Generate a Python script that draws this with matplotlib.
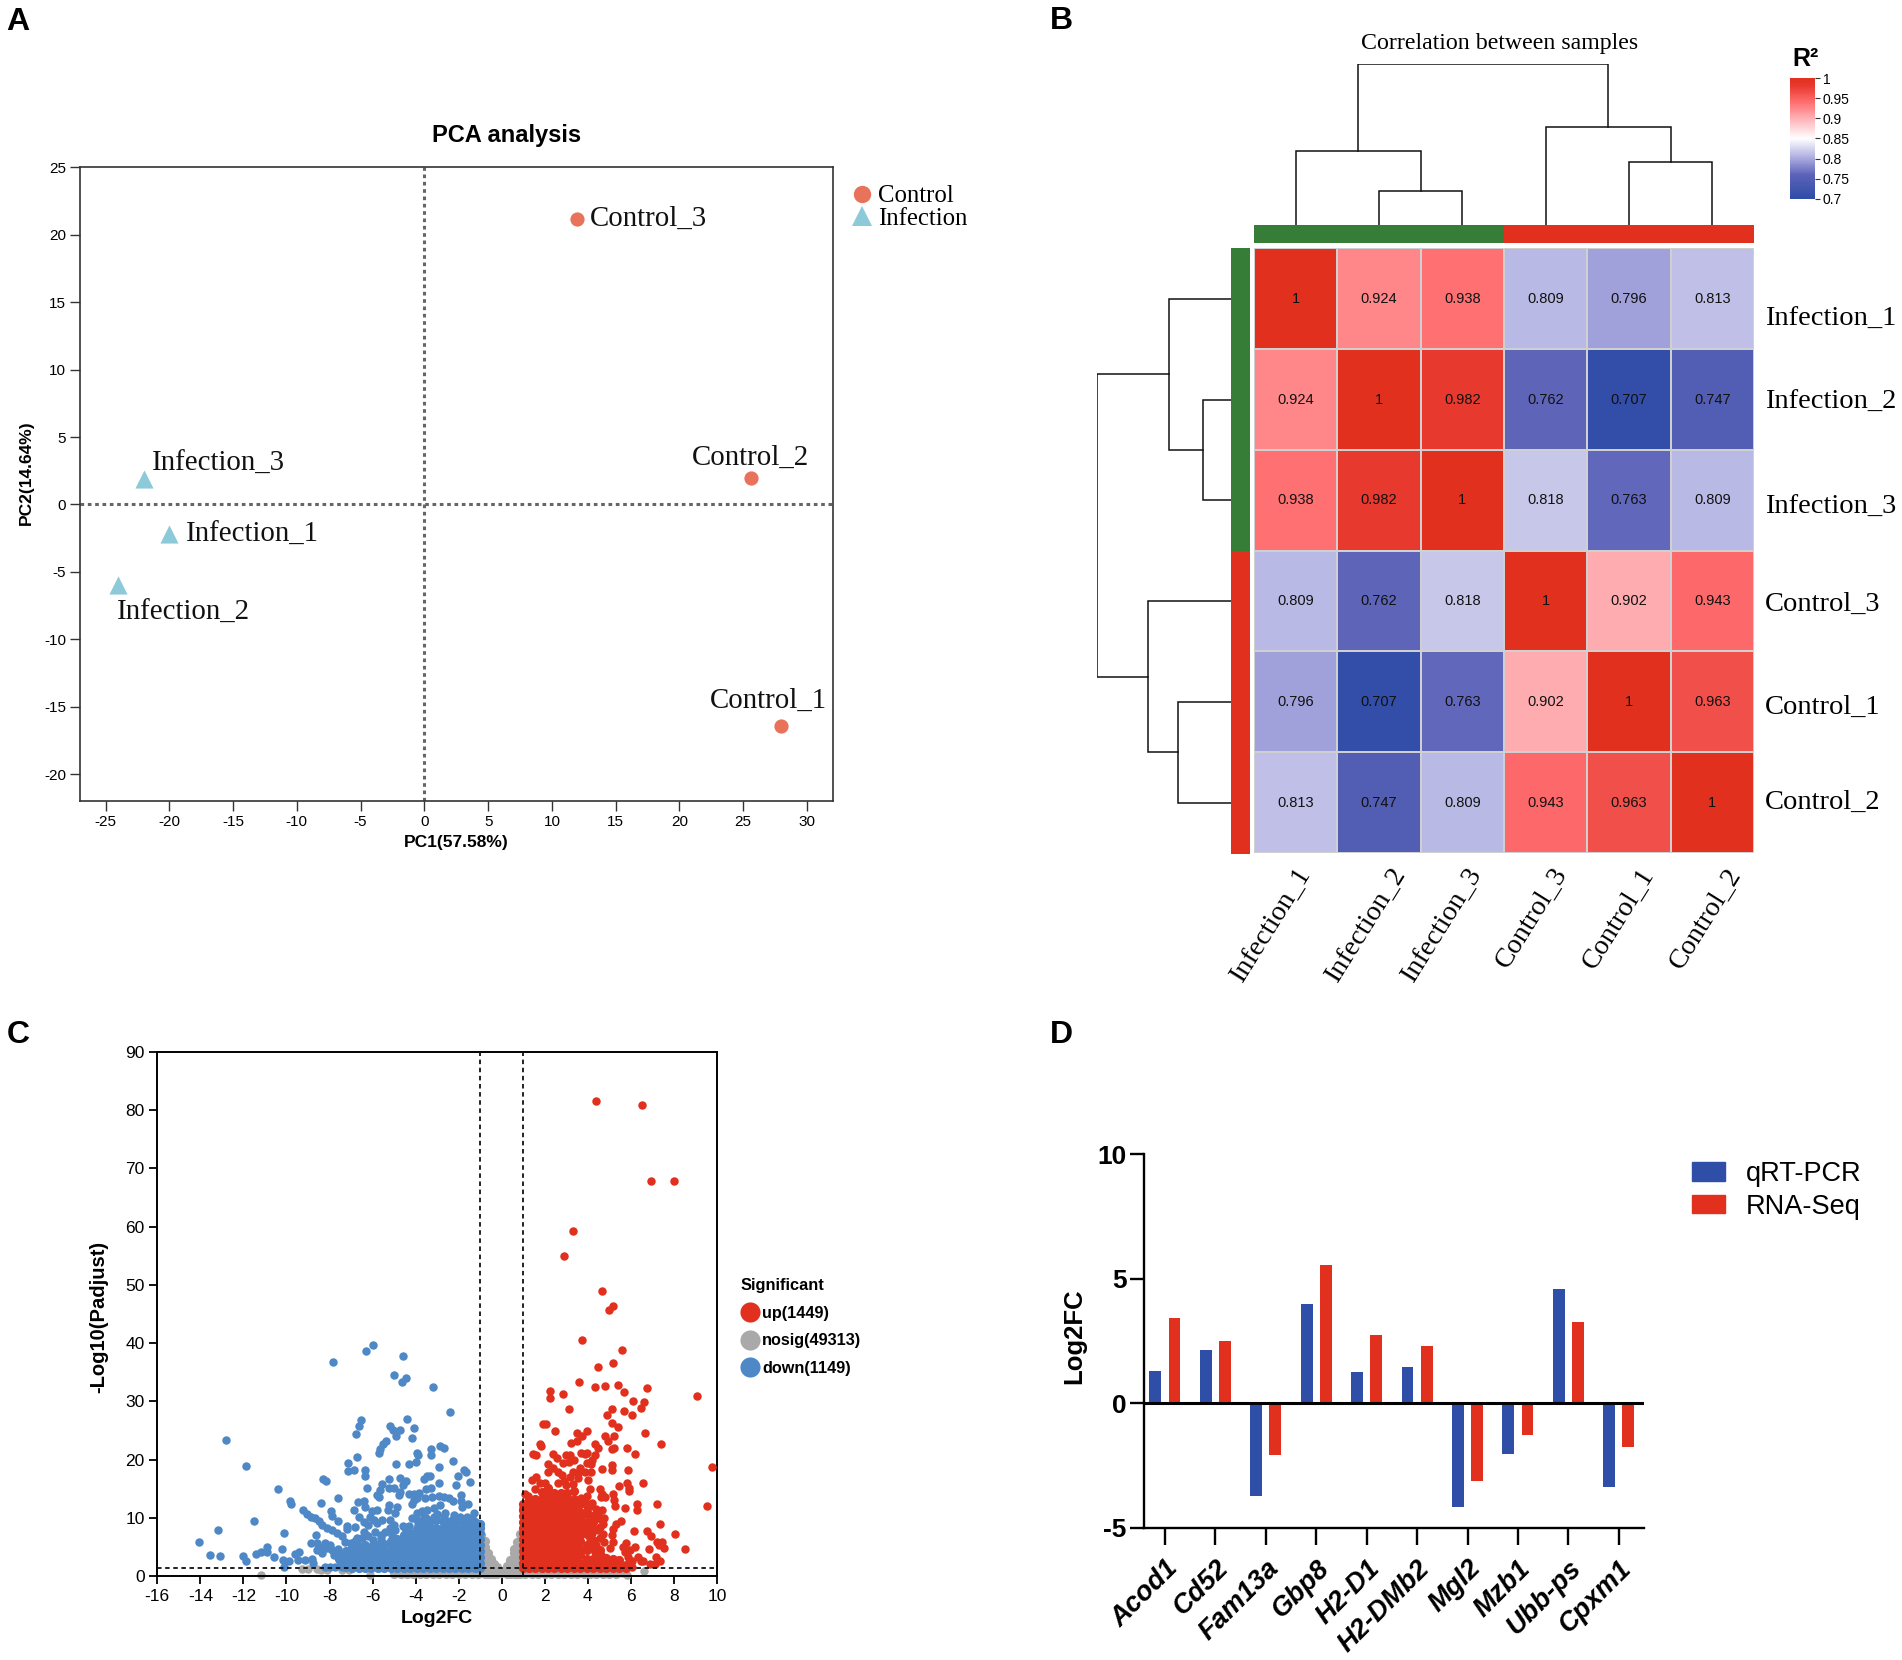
import matplotlib
matplotlib.use("Agg")
import matplotlib.pyplot as plt
import numpy as np
from matplotlib.colors import LinearSegmentedColormap, ListedColormap, Normalize
from matplotlib.lines import Line2D
from matplotlib.patches import Patch
from matplotlib.transforms import Affine2D

plt.rcParams['font.family'] = ['Liberation Sans', 'DejaVu Sans']
plt.rcParams['axes.unicode_minus'] = False

# ---------- Panel A data ----------
pca_control_names = ['Control_1', 'Control_2', 'Control_3']
pca_control_x = [28.0, 25.6, 12.0]
pca_control_y = [-16.4, 2.0, 21.2]
pca_infection_names = ['Infection_1', 'Infection_2', 'Infection_3']
pca_infection_x = [-20.0, -24.0, -22.0]
pca_infection_y = [-2.2, -6.0, 1.9]

# ---------- Panel B data ----------
sample_order = ['Infection_1', 'Infection_2', 'Infection_3', 'Control_3', 'Control_1', 'Control_2']
corr = [[1, 0.924, 0.938, 0.809, 0.796, 0.813],
        [0.924, 1, 0.982, 0.762, 0.707, 0.747],
        [0.938, 0.982, 1, 0.818, 0.763, 0.809],
        [0.809, 0.762, 0.818, 1, 0.902, 0.943],
        [0.796, 0.707, 0.763, 0.902, 1, 0.963],
        [0.813, 0.747, 0.809, 0.943, 0.963, 1]]
sample_group = [0, 0, 0, 1, 1, 1]
top_tree = ((0, (1, 2, 34), 74), (3, (4, 5, 62.5), 98), 161)
left_tree = ((0, (1, 2, 28), 61.7), (3, (4, 5, 52.7), 82.3), 133.7)
cbar_ticks = [0.7, 0.75, 0.8, 0.85, 0.9, 0.95, 1]
cbar_labels = ['0.7', '0.75', '0.8', '0.85', '0.9', '0.95', '1']

# ---------- Panel C data ----------
up_sparse = [(4.4,81.5),(6.5,80.9),(6.95,67.8),(8.0,67.8),(3.3,59.3),(2.9,55.0),(4.65,48.9),(5.15,46.4),(5.0,45.7),
(3.72,40.5),(5.6,38.9),(5.15,36.5),(4.48,35.9),(3.57,33.4),(4.33,32.5),(4.78,32.7),(5.4,32.8),(5.66,31.6),(6.75,32.3),
(2.26,31.7),(2.26,30.5),(2.86,31.3),(9.06,31.0),(6.12,30.0),(6.6,29.8),(6.45,28.8),(3.14,28.7),(5.1,28.6),(5.69,28.4),
(6.06,27.7),(4.9,27.6),(5.1,26.2),(5.39,25.6),(1.93,26.1),(2.06,26.1),(2.47,24.9),(3.96,24.9),(3.5,24.5),(3.74,24.1),
(4.8,24.0),(5.2,24.0),(6.65,24.5),(4.95,23.2),(3.2,22.9),(3.48,23.2),(1.78,22.6),(1.82,22.3),(4.34,22.6),(4.48,21.9),
(7.39,22.7),(5.1,21.8),(5.22,21.9),(5.8,22.0),(6.17,21.0),(1.47,20.9),(1.58,20.8),(2.36,21.0),(2.55,20.3),(2.97,20.7),
(3.17,20.7),(3.66,21.1),(3.86,20.9),(3.97,21.1),(4.33,20.8),(4.19,20.0),(3.38,20.0),(2.83,19.4),(3.14,19.6),(3.96,19.4),
(4.14,19.3),(2.13,19.3),(9.78,18.8),(5.12,19.0),(5.12,18.2),(4.65,18.3),(5.86,18.2),(2.13,17.9),(2.36,18.5),(2.63,17.8),
(2.78,17.3),(3.63,18.6),(3.32,17.8),(3.6,17.8),(3.86,17.8),(4.14,17.8),(4.0,16.5),(3.55,16.8),(3.17,17.0),(2.89,16.4),
(1.6,17.0),(1.4,16.5),(6.54,15.9),(5.43,15.5),(5.8,15.9),(5.9,15.2),(5.9,14.6),(1.55,15.0),(1.07,14.1),(4.57,15.0),
(4.64,14.1),(4.1,15.0),(3.97,13.8),(4.82,13.5),(4.6,13.5),(5.16,14.0),(5.2,13.0),(5.24,12.1),(7.23,12.4),(9.55,12.1),
(6.28,12.3),(6.3,11.4),(5.72,11.6),(4.67,11.3),(4.76,10.0),(4.7,9.0),(4.56,8.4),(5.56,9.5),(5.33,8.9),(5.18,8.0),
(5.13,7.0),(5.15,5.9),(5.04,4.8),(7.36,8.9),(6.15,7.7),(6.74,7.7),(6.95,6.9),(8.04,7.2),(7.19,5.8),(7.43,5.9),(7.3,5.3),
(7.53,4.8),(8.53,4.6),(6.82,4.6),(6.2,5.0),(5.77,5.6),(5.64,5.0),(5.95,4.5),(5.72,4.2),(5.87,3.3),(6.34,3.3),(6.45,2.6),
(6.57,2.5),(7.16,3.3),(7.34,2.5),(7.11,2.0),(6.91,2.0),(6.03,2.5),(6.03,1.6),(4.4,11.5),(4.2,12.6),(4.45,10.4),(4.3,9.4),
(4.55,6.6),(4.75,5.8),(4.4,5.4),(4.7,7.2),(4.3,10.5),(4.1,12.0),(3.7,13.4),(3.9,12.6),(4.6,9.8),(1.2,13.8),(1.0,11.6),
(2.6,16.0),(3.0,15.6),(3.3,15.8),(2.0,16.0),(1.8,15.9),(4.2,7.4),(4.45,7.9),(4.1,6.4),(4.35,4.1),(4.6,3.6),(3.95,12.0)]
up_core = [(0.98,[1.3,2.3,3.3,4.3,5.3,6.3,7.3,8.3,9.3,10.3,11.3,12.3]),
(1.25,[1.3,2.3,3.3,4.3,5.3,6.3,7.3,8.3,9.3,10.3,11.3,12.3,13.2]),
(1.55,[1.3,2.3,3.3,4.3,5.3,6.3,7.3,8.3,9.3,10.3,11.3,12.3,13.3]),
(1.85,[1.3,2.3,3.3,4.3,5.3,6.3,7.3,8.3,9.3,10.3,11.3,12.3,13.3,14.4]),
(2.15,[1.3,2.3,3.3,4.3,5.3,6.3,7.3,8.3,9.3,10.3,11.3,12.3,13.3,14.3,15.1]),
(2.45,[1.3,2.3,3.3,4.3,5.3,6.3,7.3,8.3,9.3,10.3,11.3,12.3,13.3,14.3]),
(2.75,[1.3,2.3,3.3,4.3,5.3,6.3,7.3,8.3,9.3,10.3,11.3,12.3,13.3,14.3]),
(3.05,[1.3,2.3,3.3,4.3,5.3,6.3,7.3,8.3,9.3,10.3,11.3,12.3,13.3,14.3]),
(3.35,[1.3,2.3,3.3,4.3,5.3,6.3,7.3,8.3,9.3,10.3,11.3,12.3,13.3,14.6]),
(3.65,[1.3,2.3,3.6,4.6,6.0,7.0,8.0,9.0,10.0,11.0,12.3]),
(3.95,[1.3,2.3,3.0,4.4,5.4,7.2,8.2,9.2,10.6,11.0]),
(4.25,[1.3,2.1,3.0,4.8,6.2,8.2,9.6]),
(4.55,[1.3,2.2,3.0,4.4]),
(4.85,[1.3,2.2,3.1]),
(5.15,[1.3,2.2,2.9]),
(5.45,[1.3,2.1,2.8]),
(5.75,[1.3,1.9])]
down_sparse = [(-14.05,5.8),(-13.57,3.6),(-13.1,3.5),(-13.2,7.9),(-12.8,23.4),(-11.9,18.9),(-11.5,9.5),(-12.0,3.5),(-11.9,2.5),
(-11.4,3.8),(-11.2,4.1),(-10.9,5.0),(-10.9,4.1),(-10.6,3.3),(-10.4,14.9),(-10.1,7.3),(-10.2,4.7),(-10.15,2.7),(-9.9,2.6),
(-10.1,1.6),(-9.85,12.8),(-9.77,12.4),(-9.6,3.7),(-9.4,4.2),(-9.45,2.8),(-9.15,2.7),(-8.8,2.9),(-8.75,2.2),(-9.25,11.3),
(-9.05,10.7),(-8.87,10.2),(-8.67,9.9),(-8.5,9.5),(-8.4,12.6),(-8.3,16.7),(-8.15,16.4),(-7.6,13.4),(-8.65,7.0),(-8.85,5.7),
(-5.97,39.6),(-6.31,38.7),(-4.57,37.8),(-7.83,36.7),(-5.0,34.5),(-4.45,34.0),(-4.64,33.4),(-3.18,32.4),(-2.39,28.1),
(-6.56,26.8),(-6.64,25.8),(-6.76,24.4),(-4.4,26.9),(-4.06,25.4),(-5.18,25.8),(-5.05,25.1),(-4.74,25.0),(-4.91,24.1),
(-4.17,23.7),(-5.38,23.2),(-5.52,22.6),(-5.64,21.8),(-5.7,21.1),(-3.27,21.8),(-3.27,20.7),(-2.85,22.4),(-2.7,21.9),
(-3.94,21.1),(-3.88,20.7),(-6.74,20.4),(-7.13,19.4),(-4.91,19.3),(-4.29,19.3),(-4.0,19.5),(-2.28,19.8),(-2.93,18.7),
(-7.13,18.0),(-6.85,18.2),(-6.34,18.2),(-6.34,17.2),(-1.77,18.2),(-1.67,17.8),(-2.05,17.1),(-1.46,16.1),(-2.11,15.6),
(-3.47,17.1),(-3.35,17.1),(-3.6,16.7),(-4.74,16.9),(-5.22,16.6),(-4.43,16.3),(-4.59,15.6),(-5.57,15.8),(-5.64,14.8),
(-6.26,15.1),(-5.24,15.1),(-5.02,15.1),(-4.71,14.5),(-4.79,13.9),(-2.91,15.9),(-3.29,15.2),(-3.53,15.0),(-5.8,13.9),
(-5.72,13.5),(-4.33,14.1),(-4.09,14.1),(-3.86,14.2),(-3.94,13.4),(-4.09,13.1),(-4.17,12.3),(-3.55,13.4),(-3.24,13.6),
(-2.93,13.8),(-2.7,13.6),(-2.47,13.4),(-2.28,12.9),(-1.88,13.9),(-1.88,12.8),(-1.57,12.4),(-1.85,11.9),(-2.85,12.2),
(-3.16,11.6),(-3.47,11.3),(-3.7,11.1),(-3.94,10.8),(-6.7,12.7),(-6.42,12.8),(-6.34,11.9),(-5.22,12.2),(-5.29,11.3),
(-4.87,11.9),(-6.85,11.3),(-6.65,10.2),(-6.42,9.3),(-6.19,8.8),(-5.95,9.6),(-5.8,11.3),(-6.03,11.1),(-6.11,10.2),
(-7.92,11.1),(-7.89,10.3),(-7.61,9.5),(-7.19,8.6),(-7.19,8.0),(-6.81,8.4),(-6.42,7.6),(-6.73,6.5),(-5.8,9.1),(-5.57,9.6),
(-5.18,9.6),(-4.95,10.8),(-4.48,8.2),(-5.41,7.6),(-4.95,7.9),(-4.17,9.9),(-3.94,9.6),(-3.63,10.2),(-3.16,10.2),(-2.62,10.8),
(-2.31,9.6),(-1.92,10.2),(-1.61,10.2),(-1.3,10.8),(-0.99,9.0),(-8.36,8.8),(-8.12,8.2),(-7.89,7.9),(-7.66,7.3),(-7.43,6.8),
(-7.27,5.9),(-8.59,5.6),(-8.43,4.8),(-8.2,5.6),(-7.97,5.3),(-8.59,4.5),(-8.36,3.9),(-8.12,4.8),(-7.89,4.5),(-8.2,1.6),
(-7.97,1.6),(-7.74,1.6),(-7.43,1.6),(-6.2,6.8),(-5.9,7.6),(-5.1,7.0),(-4.6,8.6),(-5.6,6.6),(-7.6,4.6),(-7.8,3.6),(-7.5,2.5),
(-7.0,5.6),(-6.8,6.0),(-6.5,6.6),(-6.0,6.2),(-6.3,7.0),(-5.6,7.0),(-5.2,8.2),(-5.0,8.8),(-4.3,8.6),(-3.9,8.8),(-3.5,9.9),
(-3.0,10.6),(-2.7,10.2),(-2.2,10.4),(-1.9,9.8),(-1.4,10.0)]
down_core = [(-7.55,[3.0,4.0]),
(-7.25,[1.5,2.5,3.4,4.3]),
(-6.95,[1.4,2.4,3.3,4.2,4.9]),
(-6.65,[1.3,2.3,3.3,4.2,5.2]),
(-6.35,[1.3,2.3,3.3,4.3,5.4]),
(-6.05,[1.3,2.3,3.3,4.3,5.0]),
(-5.75,[1.3,2.3,3.3,4.3,5.3]),
(-5.45,[1.3,2.3,3.3,4.3,5.5]),
(-5.15,[1.3,2.3,3.3,4.3,5.3,6.0]),
(-4.85,[1.3,2.3,3.3,4.3,5.3,6.4]),
(-4.55,[1.3,2.3,3.3,4.3,5.3,6.3,7.0]),
(-4.25,[1.3,2.3,3.3,4.3,5.3,6.3,7.4]),
(-3.95,[1.3,2.3,3.3,4.3,5.3,6.3,7.3,8.0]),
(-3.65,[1.3,2.3,3.3,4.3,5.3,6.3,7.3,8.3,9.0]),
(-3.35,[1.3,2.3,3.3,4.3,5.3,6.3,7.3,8.3,9.4]),
(-3.05,[1.3,2.3,3.3,4.3,5.3,6.3,7.3,8.3,9.6]),
(-2.75,[1.3,2.3,3.3,4.3,5.3,6.3,7.3,8.3,9.4]),
(-2.45,[1.3,2.3,3.3,4.3,5.3,6.3,7.3,8.3,9.2]),
(-2.15,[1.3,2.3,3.3,4.3,5.3,6.3,7.3,8.3,9.3]),
(-1.85,[1.3,2.3,3.3,4.3,5.3,6.3,7.3,8.3,9.4]),
(-1.55,[1.3,2.3,3.3,4.3,5.3,6.3,7.3,8.3,9.3]),
(-1.25,[1.3,2.3,3.3,4.3,5.3,6.3,7.3,8.3,9.2]),
(-1.03,[1.3,2.3,3.3,4.3,5.3,6.3,7.3,8.3,9.0])]
nosig_sparse = [(-11.2,0.2),(-9.3,1.2),(-9.0,1.2),(-8.6,1.2),(-8.4,1.1),(-8.1,1.1),(-7.4,1.1),(-7.1,1.1),(-6.1,0.2),(6.6,0.9),(5.8,0.2),(5.6,0.6)]
nosig_band = [(-5.0,[0.3,0.9]),(-4.7,[0.3,0.9]),(-4.4,[0.3,0.9]),(-4.1,[0.3,0.9]),(-3.8,[0.3,0.9]),(-3.5,[0.3,0.9]),
(-3.2,[0.3,0.9]),(-2.9,[0.3,0.9]),(-2.6,[0.3,0.9]),(-2.3,[0.3,0.9]),(-2.0,[0.3,0.9]),(-1.7,[0.3,0.9]),(-1.4,[0.3,0.9]),
(-1.1,[0.3,0.9]),(-0.95,[1,2,3,4,5,6,7]),(-0.8,[0.3,1,2,3,4,5,6]),(-0.65,[0.3,1,2,3,4]),(-0.5,[0.3,1,2,3]),(-0.35,[0.3,1,2]),
(-0.2,[0.3,1,1.5]),(-0.05,[0.5]),(0.1,[0.8]),(0.25,[0.3,1,1.8]),(0.4,[0.3,1,2,2.8]),(0.55,[0.3,1,2,3,4,4.6]),
(0.7,[0.3,1,2,3,4,5,5.8]),(0.85,[0.3,1,2,3,4,5,6,7.2]),(1.1,[0.3,0.9]),(1.4,[0.3,0.9]),(1.7,[0.3,0.9]),(2.0,[0.3,0.9]),
(2.3,[0.3,0.9]),(2.6,[0.3,0.9]),(2.9,[0.3,0.9]),(3.2,[0.3,0.9]),(3.5,[0.3,0.9]),(3.8,[0.3,0.9]),(4.1,[0.3,0.9]),
(4.4,[0.3,0.9]),(4.7,[0.3,0.9]),(5.0,[0.3,0.9]),(5.3,[0.3,0.9])]

# ---------- Panel D data ----------
genes = ['Acod1', 'Cd52', 'Fam13a', 'Gbp8', 'H2-D1', 'H2-DMb2', 'Mgl2', 'Mzb1', 'Ubb-ps', 'Cpxm1']
qrt_pcr = [1.28, 2.14, -3.72, 3.99, 1.25, 1.46, -4.17, -2.04, 4.58, -3.38]
rna_seq = [3.40, 2.49, -2.10, 5.56, 2.75, 2.29, -3.15, -1.30, 3.24, -1.75]

# ---------- Layout ----------
W, H = 1902, 1660
fig = plt.figure(figsize=(W / 100, H / 100), dpi=100, facecolor='white')
px = Affine2D().scale(1, -1).translate(0, H)

def add_ax(l, t, r, b):
    return fig.add_axes([l / W, 1 - b / H, (r - l) / W, (b - t) / H])

def put(x, y, s, **kw):
    kw.setdefault('ha', 'center')
    kw.setdefault('va', 'center')
    return fig.text(x, y, s, transform=px, **kw)

SERIF = 'Liberation Serif'
for letter, x, y in [('A', 6, 22), ('B', 1050, 21), ('C', 7, 1035), ('D', 1050, 1035)]:
    put(x, y, letter, ha='left', fontsize=23, fontweight='bold')

# ---------- A ----------
salmon, sky = '#E8735A', '#8CC9D9'
ax = add_ax(80, 167.5, 832.5, 801)
ax.set_xlim(-27, 32)
ax.set_ylim(-22, 25)
ax.axhline(0, color='#666666', lw=2.2, ls=(0, (1.2, 1.2)), zorder=1)
ax.axvline(0, color='#666666', lw=2.2, ls=(0, (1.2, 1.2)), zorder=1)
ax.scatter(pca_control_x, pca_control_y, s=105, c=salmon, marker='o', lw=0, zorder=3)
ax.scatter(pca_infection_x, pca_infection_y, s=170, c=sky, marker='^', lw=0, zorder=3)
offs = {'Control_1': (-72, 25), 'Control_2': (-59, 20), 'Control_3': (12, 0),
        'Infection_1': (17, -1), 'Infection_2': (-1, -28), 'Infection_3': (8, 15)}
for names, xs, ys in [(pca_control_names, pca_control_x, pca_control_y),
                      (pca_infection_names, pca_infection_x, pca_infection_y)]:
    for n, x, y in zip(names, xs, ys):
        ax.annotate(n, (x, y), xytext=offs[n], textcoords='offset pixels', family=SERIF,
                    fontsize=20.8, ha='left', va='center', color='#111111')
ax.set_xticks(np.arange(-25, 31, 5))
ax.set_yticks(np.arange(-20, 26, 5))
ax.tick_params(length=7, width=1, color='#333333', labelsize=11, pad=3)
for s in ax.spines.values():
    s.set_color('#333333')
    s.set_linewidth(1.2)
put(507, 135.5, 'PCA analysis', fontsize=17, fontweight='bold')
ax.set_xlabel('PC1(57.58%)', fontsize=12.5, fontweight='bold', va='center')
ax.xaxis.set_label_coords(456, H - 842, transform=Affine2D())
ax.set_ylabel('PC2(14.64%)', fontsize=12.5, fontweight='bold', va='center')
ax.yaxis.set_label_coords(26, H - 473, transform=Affine2D())
ax.legend(handles=[Line2D([], [], marker='o', ls='', ms=12.5, mfc=salmon, mew=0, label='Control'),
                   Line2D([], [], marker='^', ls='', ms=14, mfc=sky, mew=0, label='Infection')],
          loc='upper left', bbox_to_anchor=(847, 185), bbox_transform=px, frameon=False, borderpad=0,
          borderaxespad=0, handletextpad=0.05, handlelength=1.2, labelspacing=0.0,
          prop={'family': SERIF, 'size': 17.8})

# ---------- B ----------
hm_l, hm_t, hm_r, hm_b = 1254, 248.5, 1754, 853
cmap = LinearSegmentedColormap.from_list('rwb', [(0, '#2E4CA6'), (0.2, '#5C63B8'), (0.333, '#A9A9DF'),
    (0.5, '#FFFFFF'), (0.667, '#FFB0B5'), (0.8, '#FF6E70'), (0.933, '#E83A30'), (1, '#E1301E')])
norm = Normalize(0.7, 1)
ax = add_ax(hm_l, hm_t, hm_r, hm_b)
mesh = ax.pcolormesh(np.array(corr), cmap=cmap, norm=norm, edgecolors='#D0D0D0', linewidth=1.1)
ax.set_ylim(6, 0)
ax.axis('off')
for i, row in enumerate(corr):
    for j, v in enumerate(row):
        ax.text(j + .5, i + .5, f'{v:g}', ha='center', va='center', fontsize=10.5, color='#111111')

group_cmap = ListedColormap(['#367E38', '#E1301E'])
ax = add_ax(hm_l, 225, hm_r, 243.5)
ax.pcolormesh(np.array([sample_group]), cmap=group_cmap, vmin=0, vmax=1)
ax.axis('off')
ax = add_ax(1230.5, hm_t, 1249.5, hm_b + 1)
ax.pcolormesh(np.array(sample_group).reshape(-1, 1), cmap=group_cmap, vmin=0, vmax=1)
ax.set_ylim(6, 0)
ax.axis('off')

def draw_tree(ax, node, horizontal=False):
    if isinstance(node, int):
        return node + .5, 0
    a, b, h = node
    pa, ha = draw_tree(ax, a, horizontal)
    pb, hb = draw_tree(ax, b, horizontal)
    ps = [pa, pa, pb, pb]
    hs = [ha, h, h, hb]
    if horizontal:
        ax.plot(hs, ps, color='#111111', lw=1.1, solid_joinstyle='miter')
    else:
        ax.plot(ps, hs, color='#111111', lw=1.1, solid_joinstyle='miter')
    return (pa + pb) / 2, h

ax = add_ax(hm_l, 64, hm_r, 225)
draw_tree(ax, top_tree)
ax.set_xlim(0, 6)
ax.set_ylim(0, 161)
ax.axis('off')
ax = add_ax(1097, hm_t, 1230.5, hm_b)
draw_tree(ax, left_tree, horizontal=True)
ax.set_ylim(6, 0)
ax.set_xlim(133.7, 0)
ax.axis('off')

put(1500, 43, 'Correlation between samples', family=SERIF, fontsize=17.2)
row_y = [319.5, 402.5, 507, 604, 707, 802]
for n, y in zip(sample_order, row_y):
    put(1765, y, n, ha='left', family=SERIF, fontsize=20.5)
col_end = [1306, 1401, 1477, 1562, 1649, 1736]
for n, x in zip(sample_order, col_end):
    put(x, 870, n, ha='right', va='center', rotation=58, rotation_mode='anchor', family=SERIF, fontsize=20.2)

cax = add_ax(1790, 78, 1815, 199)
cb = fig.colorbar(mesh, cax=cax, ticks=cbar_ticks)
cb.ax.set_yticklabels(cbar_labels)
cb.outline.set_visible(False)
cb.ax.tick_params(length=3.5, width=0.8, labelsize=10, pad=2, color='#333333', direction='out')
put(1805, 59, 'R²', fontsize=18, fontweight='bold')

# ---------- C ----------
def expand(sparse, core):
    xs = [p[0] for p in sparse]
    ys = [p[1] for p in sparse]
    cx, cy = [], []
    for x, col in core:
        cx += [x] * len(col)
        cy += col
    return xs, ys, cx, cy

ax = add_ax(157.3, 1052, 717, 1576)
ax.set_xlim(-16, 10)
ax.set_ylim(0, 90)
vred, vgrey, vblue = '#E1301E', '#A9A9A9', '#4F88C6'
for (sp, co), c, z in [((nosig_sparse, nosig_band), vgrey, 2), ((down_sparse, down_core), vblue, 3), ((up_sparse, up_core), vred, 4)]:
    x, y, cx, cy = expand(sp, co)
    ax.scatter(x, y, s=37, c=c, lw=0, zorder=z, clip_on=False)
    ax.scatter(cx, cy, s=44, c=c, lw=0, zorder=z, clip_on=False)
for v in (-1, 1):
    ax.axvline(v, color='#111111', lw=1.3, ls=(0, (2.5, 2)), zorder=5)
ax.axhline(1.4, color='#111111', lw=1.3, ls=(0, (2.5, 2)), zorder=5)
ax.set_xticks(np.arange(-16, 11, 2))
ax.set_yticks(np.arange(0, 91, 10))
ax.tick_params(length=6, width=1.3, labelsize=12.5, pad=3)
for s in ax.spines.values():
    s.set_linewidth(1.4)
ax.set_xlabel('Log2FC', fontsize=14, fontweight='bold', va='center')
ax.xaxis.set_label_coords(437, H - 1618, transform=Affine2D())
ax.set_ylabel('-Log10(Padjust)', fontsize=14.5, fontweight='bold', va='center')
ax.yaxis.set_label_coords(99, H - 1317, transform=Affine2D())
leg = ax.legend(handles=[Line2D([], [], marker='o', ls='', ms=14.5, mfc=vred, mew=0, label='up(1449)'),
                         Line2D([], [], marker='o', ls='', ms=14.5, mfc=vgrey, mew=0, label='nosig(49313)'),
                         Line2D([], [], marker='o', ls='', ms=14.5, mfc=vblue, mew=0, label='down(1149)')],
                title='Significant', loc='upper left', bbox_to_anchor=(741, 1278), bbox_transform=px,
                frameon=False, borderpad=0, borderaxespad=0, handletextpad=0.2, handlelength=1.1, labelspacing=0.78,
                alignment='left', prop={'size': 11.7, 'weight': 'bold'},
                title_fontproperties={'size': 11.8, 'weight': 'bold'})

# ---------- D ----------
ax = add_ax(1143.5, 1154, 1644, 1527.5)
ax.set_xlim(-0.426, 9.5)
ax.set_ylim(-5, 10)
pos = np.arange(len(genes))
dblue, dred = '#2F4EA8', '#E1301E'
ax.bar(pos - 0.19, qrt_pcr, width=0.235, color=dblue, label='qRT-PCR', zorder=2)
ax.bar(pos + 0.19, rna_seq, width=0.235, color=dred, label='RNA-Seq', zorder=2)
ax.axhline(0, color='black', lw=2.2, zorder=3)
ax.spines['top'].set_visible(False)
ax.spines['right'].set_visible(False)
ax.spines['left'].set_linewidth(1.7)
ax.spines['bottom'].set_linewidth(1.7)
ax.set_yticks([-5, 0, 5, 10])
ax.set_yticklabels(['-5', '0', '5', '10'], fontsize=19, fontweight='bold')
ax.set_xticks(pos)
ax.set_xticklabels(genes, fontsize=19.5, fontweight='bold', fontstyle='italic', rotation=45, ha='right',
                   rotation_mode='anchor')
for lab in ax.get_xticklabels():
    lab.set_transform(lab.get_transform() + Affine2D().translate(-6, 0))
ax.tick_params(axis='y', length=10, width=1.7, pad=2)
ax.tick_params(axis='x', length=12, width=1.7, pad=8)
ax.set_ylabel('Log2FC', fontsize=18.5, fontweight='bold', va='center')
ax.yaxis.set_label_coords(1074, H - 1336, transform=Affine2D())
ax.legend(handles=[Patch(color=dblue, label='qRT-PCR'), Patch(color=dred, label='RNA-Seq')],
          loc='upper left', bbox_to_anchor=(1692, 1161), bbox_transform=px, frameon=False, borderpad=0,
          borderaxespad=0, handlelength=1.2, handleheight=0.65, handletextpad=0.78, labelspacing=0.25,
          prop={'size': 19.5})

fig.savefig('out.png', dpi=100, facecolor='white')
